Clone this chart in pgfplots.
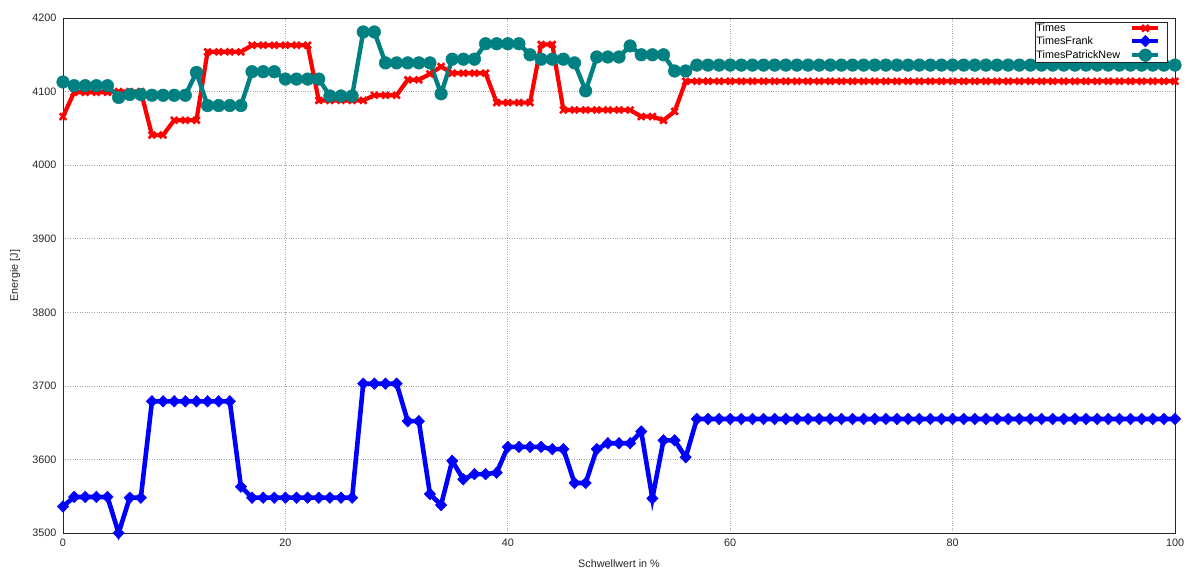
\documentclass[border=0pt]{standalone}
\usepackage{fontspec}
\setmainfont{Liberation Sans}
\usepackage{pgfplots}
\usepackage{pgfplotstable}
\pgfplotsset{compat=1.18}

\definecolor{tred}{RGB}{255,0,0}
\definecolor{tblue}{RGB}{0,0,255}
\definecolor{tteal}{RGB}{0,128,128}

% energy per threshold value for the three timing variants
\pgfplotstableread{
x   times frank patrick
0   4066  3536  4113
1   4099  3549  4108
2   4099  3549  4108
3   4099  3549  4108
4   4099  3549  4108
5   4100  3500  4092
6   4100  3548  4096
7   4100  3548  4096
8   4041  3679  4095
9   4041  3679  4095
10  4061  3679  4095
11  4061  3679  4095
12  4061  3679  4126
13  4154  3679  4081
14  4154  3679  4081
15  4154  3679  4081
16  4154  3563  4081
17  4163  3548  4127
18  4163  3548  4127
19  4163  3548  4127
20  4163  3548  4117
21  4163  3548  4117
22  4163  3548  4117
23  4088  3548  4117
24  4088  3548  4094
25  4088  3548  4094
26  4088  3548  4094
27  4088  3703  4181
28  4095  3703  4181
29  4095  3703  4139
30  4095  3703  4139
31  4116  3652  4139
32  4116  3652  4139
33  4124  3553  4139
34  4134  3538  4097
35  4125  3598  4144
36  4125  3573  4144
37  4125  3580  4144
38  4125  3580  4165
39  4085  3582  4165
40  4085  3617  4165
41  4085  3617  4165
42  4085  3617  4150
43  4164  3617  4144
44  4164  3614  4144
45  4075  3614  4144
46  4075  3568  4139
47  4075  3568  4101
48  4075  3614  4147
49  4075  3622  4147
50  4075  3622  4147
51  4075  3622  4162
52  4066  3638  4150
53  4066  3547  4150
54  4061  3626  4150
55  4073  3626  4128
56  4114  3603  4128
57  4114  3655  4136
58  4114  3655  4136
59  4114  3655  4136
60  4114  3655  4136
61  4114  3655  4136
62  4114  3655  4136
63  4114  3655  4136
64  4114  3655  4136
65  4114  3655  4136
66  4114  3655  4136
67  4114  3655  4136
68  4114  3655  4136
69  4114  3655  4136
70  4114  3655  4136
71  4114  3655  4136
72  4114  3655  4136
73  4114  3655  4136
74  4114  3655  4136
75  4114  3655  4136
76  4114  3655  4136
77  4114  3655  4136
78  4114  3655  4136
79  4114  3655  4136
80  4114  3655  4136
81  4114  3655  4136
82  4114  3655  4136
83  4114  3655  4136
84  4114  3655  4136
85  4114  3655  4136
86  4114  3655  4136
87  4114  3655  4136
88  4114  3655  4136
89  4114  3655  4136
90  4114  3655  4136
91  4114  3655  4136
92  4114  3655  4136
93  4114  3655  4136
94  4114  3655  4136
95  4114  3655  4136
96  4114  3655  4136
97  4114  3655  4136
98  4114  3655  4136
99  4114  3655  4136
100 4114  3655  4136
}\energy

\begin{document}
\begin{tikzpicture}
\useasboundingbox (-63pt,-38pt) rectangle (1131pt,533pt);
\begin{axis}[
  scale only axis,
  width=1112pt, height=515pt,
  xmin=0, xmax=100, ymin=3500, ymax=4200,
  xtick={0,20,...,100},
  ytick={3500,3600,...,4200},
  /pgf/number format/assume math mode=true,
  /pgf/number format/set thousands separator={},
  scaled ticks=false,
  major tick length=0pt,
  tick label style={font=\fontsize{10.8}{12}\selectfont, text=black!85},
  yticklabel style={xshift=-3pt},
  xticklabel style={yshift=-2.5pt},
  grid=major,
  grid style={dotted, black!35, line width=0.7pt},
  axis line style={black!85, line width=0.8pt},
  xlabel={Schwellwert in \%},
  ylabel={Energie [J]},
  label style={font=\fontsize{10.8}{12}\selectfont, text=black!85},
  xlabel style={at={(axis description cs:0.5,-0.0602)}, anchor=center},
  ylabel style={at={(axis description cs:-0.0432,0.5)}, anchor=center},
  clip=false,
  legend plot pos=right,
  legend cell align=left,
  legend image code/.code={%
    \draw[mark repeat=2, mark phase=2, #1] plot coordinates {(0pt,0pt) (13pt,0pt) (26pt,0pt)};
    \path (32pt,0pt);
  },
  legend style={
    at={(axis description cs:0.9937,0.9922)}, anchor=north east,
    draw=black!85, line width=0.6pt, fill=white,
    inner xsep=1pt, inner ysep=1pt,
    font=\fontsize{10.8}{12}\selectfont,
    nodes={inner sep=0pt, text height=8pt, text depth=2pt},
    row sep=2pt, column sep=10pt,
  },
]
\addplot[tred, line width=4.2pt, mark=x, mark size=4.6pt,
  mark options={line width=2.6pt}] table[x=x, y=times] {\energy};
\addlegendentry{Times}
\addplot[tblue, line width=4.6pt, mark=diamond*, mark size=5.8pt,
  mark options={xscale=1.3, line width=0.5pt}] table[x=x, y=frank] {\energy};
\addlegendentry{TimesFrank}
\addplot[tteal, line width=4.4pt, mark=*, mark size=6.3pt,
  mark options={line width=0.5pt}] table[x=x, y=patrick] {\energy};
\addlegendentry{TimesPatrickNew}
\end{axis}
\end{tikzpicture}
\end{document}
